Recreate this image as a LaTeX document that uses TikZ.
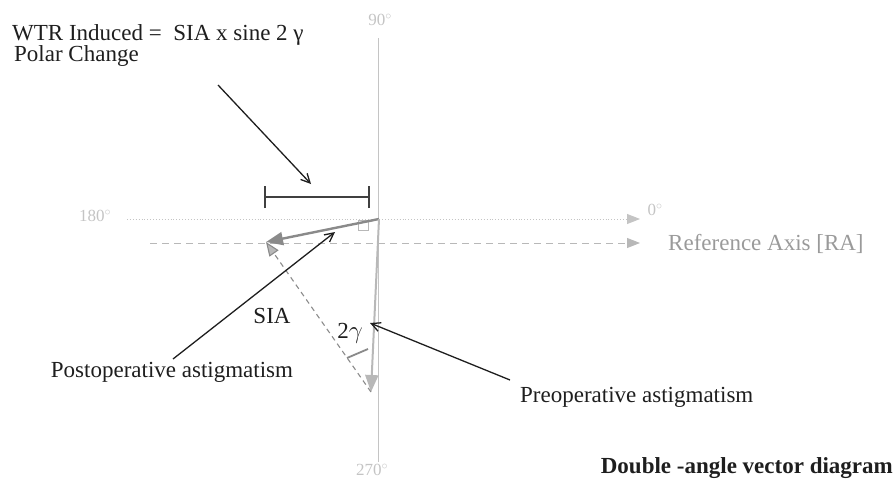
\documentclass[tikz,border=0pt]{standalone}
\usepackage{fontspec}
\setmainfont{Liberation Serif}
\usetikzlibrary{arrows.meta}
\definecolor{ink}{HTML}{1E1E1E}
\definecolor{axisgray}{HTML}{C4C4C4}
\definecolor{vecgray}{HTML}{8A8A8A}
\definecolor{lightvec}{HTML}{B8B8B8}
\definecolor{lbl}{HTML}{9A9A9A}
\begin{document}
\begin{tikzpicture}[x=1pt,y=-1pt,
  txt/.style={inner sep=0pt, text=ink, font=\fontsize{23}{27}\selectfont},
  deg/.style={inner sep=0pt, text=axisgray, font=\fontsize{17}{20}\selectfont},
  axisline/.style={draw=axisgray, line width=0.9pt},
  pointer/.style={draw=ink, line width=1.3pt, -{Straight Barb[length=9pt,width=9pt,line width=1.3pt]}},
  vecarrow/.style={line width=2.4pt, -{Triangle[length=17pt,width=13pt]}},
]
\useasboundingbox (0,0) rectangle (895,482);
% axes
\coordinate (O) at (379,219);
\coordinate (top) at (378,38);
\coordinate (bot) at (378,462);
\coordinate (left) at (127,219);
\coordinate (right) at (640,219);
\coordinate (raL) at (150,243);
\coordinate (raR) at (640,243);
\draw[axisline] (top) -- (bot);
\draw[axisline, dotted, -{Triangle[length=13pt,width=10pt]}] (left) -- (right);
\draw[axisline, dashed, dash pattern=on 7pt off 5pt, draw=lightvec, -{Triangle[length=13pt,width=10pt,fill=lightvec]}] (raL) -- (raR);
\node[deg] (d90) at (380,20) {90$^{\circ}$};
\node[deg] (d180) at (95,216) {180$^{\circ}$};
\node[deg] (d0) at (655,210) {0$^{\circ}$};
\node[deg] (d270) at (372,470) {270$^{\circ}$};
\node[txt, text=lbl, anchor=west] (ra) at (668,244) {Reference Axis [RA]};
% polar change bar
\coordinate (barL) at (265,197);
\coordinate (barR) at (369,197);
\draw[draw=ink!85, line width=1.6pt] (barL) -- (barR);
\draw[draw=ink!85, line width=1.6pt] ([yshift=-11pt]barL) -- ([yshift=11pt]barL);
\draw[draw=ink!85, line width=1.6pt] ([yshift=-11pt]barR) -- ([yshift=11pt]barR);
% vectors
\coordinate (P) at (266,242);
\coordinate (Q) at (371,392);
\draw[draw=lightvec, line width=0.8pt] (358,220) rectangle (368,230);
\draw[vecarrow, draw=vecgray, fill=vecgray] (O) -- (P);
\draw[vecarrow, draw=lightvec, fill=lightvec, line width=2pt] (O) -- (Q);
\draw[draw=vecgray, line width=1.1pt, dashed, dash pattern=on 5pt off 4pt, -{Triangle[length=14pt,width=11pt,fill=lightvec]}] (Q) -- (P);
\coordinate (t1) at (347,358);
\coordinate (t2) at (368,349);
\draw[draw=vecgray, line width=1.8pt] (t1) -- (t2);
\node[txt] (sia) at (272,316) {SIA};
\node[txt] (gam) at (350,333) {2$\gamma$};
% labels
\node[txt, anchor=north west, align=left, font=\fontsize{23}{21}\selectfont] (wtr) at (12,24) {WTR Induced =\ \ SIA x sine 2 γ\\\hspace{2pt}Polar Change};
\node[txt] (post) at (172,372) {Postoperative astigmatism};
\node[txt, anchor=west] (pre) at (520,397) {Preoperative astigmatism};
\node[txt, anchor=east, font=\fontsize{23}{27}\selectfont\bfseries] (title) at (893,468) {Double -angle vector diagram};
% pointers
\coordinate (p1s) at (218,85);
\coordinate (p1e) at (311,184);
\coordinate (p2s) at (173,359);
\coordinate (p2e) at (335,232);
\coordinate (p3s) at (510,380);
\coordinate (p3e) at (370,323);
\draw[pointer] (p1s) -- (p1e);
\draw[pointer] (p2s) -- (p2e);
\draw[pointer] (p3s) -- (p3e);
\end{tikzpicture}
\end{document}
